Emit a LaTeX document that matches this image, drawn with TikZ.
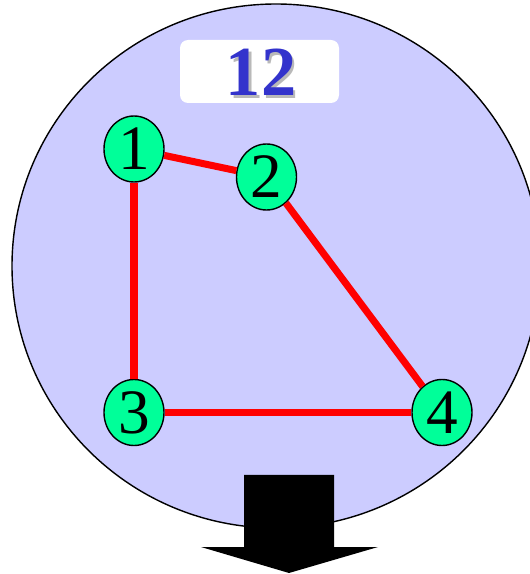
\documentclass[tikz,border=0pt]{standalone}
\usepackage{fontspec}
\setmainfont{Liberation Serif}
\usepackage{tikz}
\usetikzlibrary{shapes.geometric}
\definecolor{lavender}{HTML}{CCCCFF}
\definecolor{vgreen}{HTML}{00FF99}
\definecolor{titleblue}{HTML}{3333CC}
\newcommand{\shadownum}[1]{\makebox[0pt][l]{\raisebox{-1.7pt}{\kern1.7pt\textcolor{gray!55}{#1}}}#1}

\begin{document}
\begin{tikzpicture}[
  vertex/.style={ellipse,draw,line width=0.8pt,fill=vgreen,minimum width=1.2cm,minimum height=1.32cm,inner sep=0pt,font=\fontsize{36}{36}\selectfont},
  edge/.style={red,line width=4pt},
  titlenum/.style={font=\fontsize{40}{40}\selectfont\bfseries}]
\useasboundingbox (0,0) rectangle (10.6,11.48);
\draw[fill=lavender,line width=0.8pt] (5.52,6.16) ellipse (5.28 and 5.24);
\node[fill=white,rounded corners=0.16cm,minimum width=3.18cm,minimum height=1.26cm] (box) at (5.19,10.05) {};
\node[titlenum,text=titleblue] (title) at (5.22,10.0) {\shadownum{12}};
% graph
\node[vertex] (n1) at (2.68,8.50) {1};
\node[vertex] (n2) at (5.33,7.94) {2};
\node[vertex] (n3) at (2.68,3.23) {3};
\node[vertex] (n4) at (8.84,3.23) {4};
\draw[edge] (n1) -- (n2);
\draw[edge] (n1) -- (n3);
\draw[edge] (n2) -- (n4);
\draw[edge] (n3) -- (n4);
% block arrow
\fill (4.88,1.98) -- (6.68,1.98) -- (6.68,0.54) -- (7.56,0.54) -- (5.78,0.02) -- (4.02,0.54) -- (4.88,0.54) -- cycle;
\end{tikzpicture}
\end{document}
